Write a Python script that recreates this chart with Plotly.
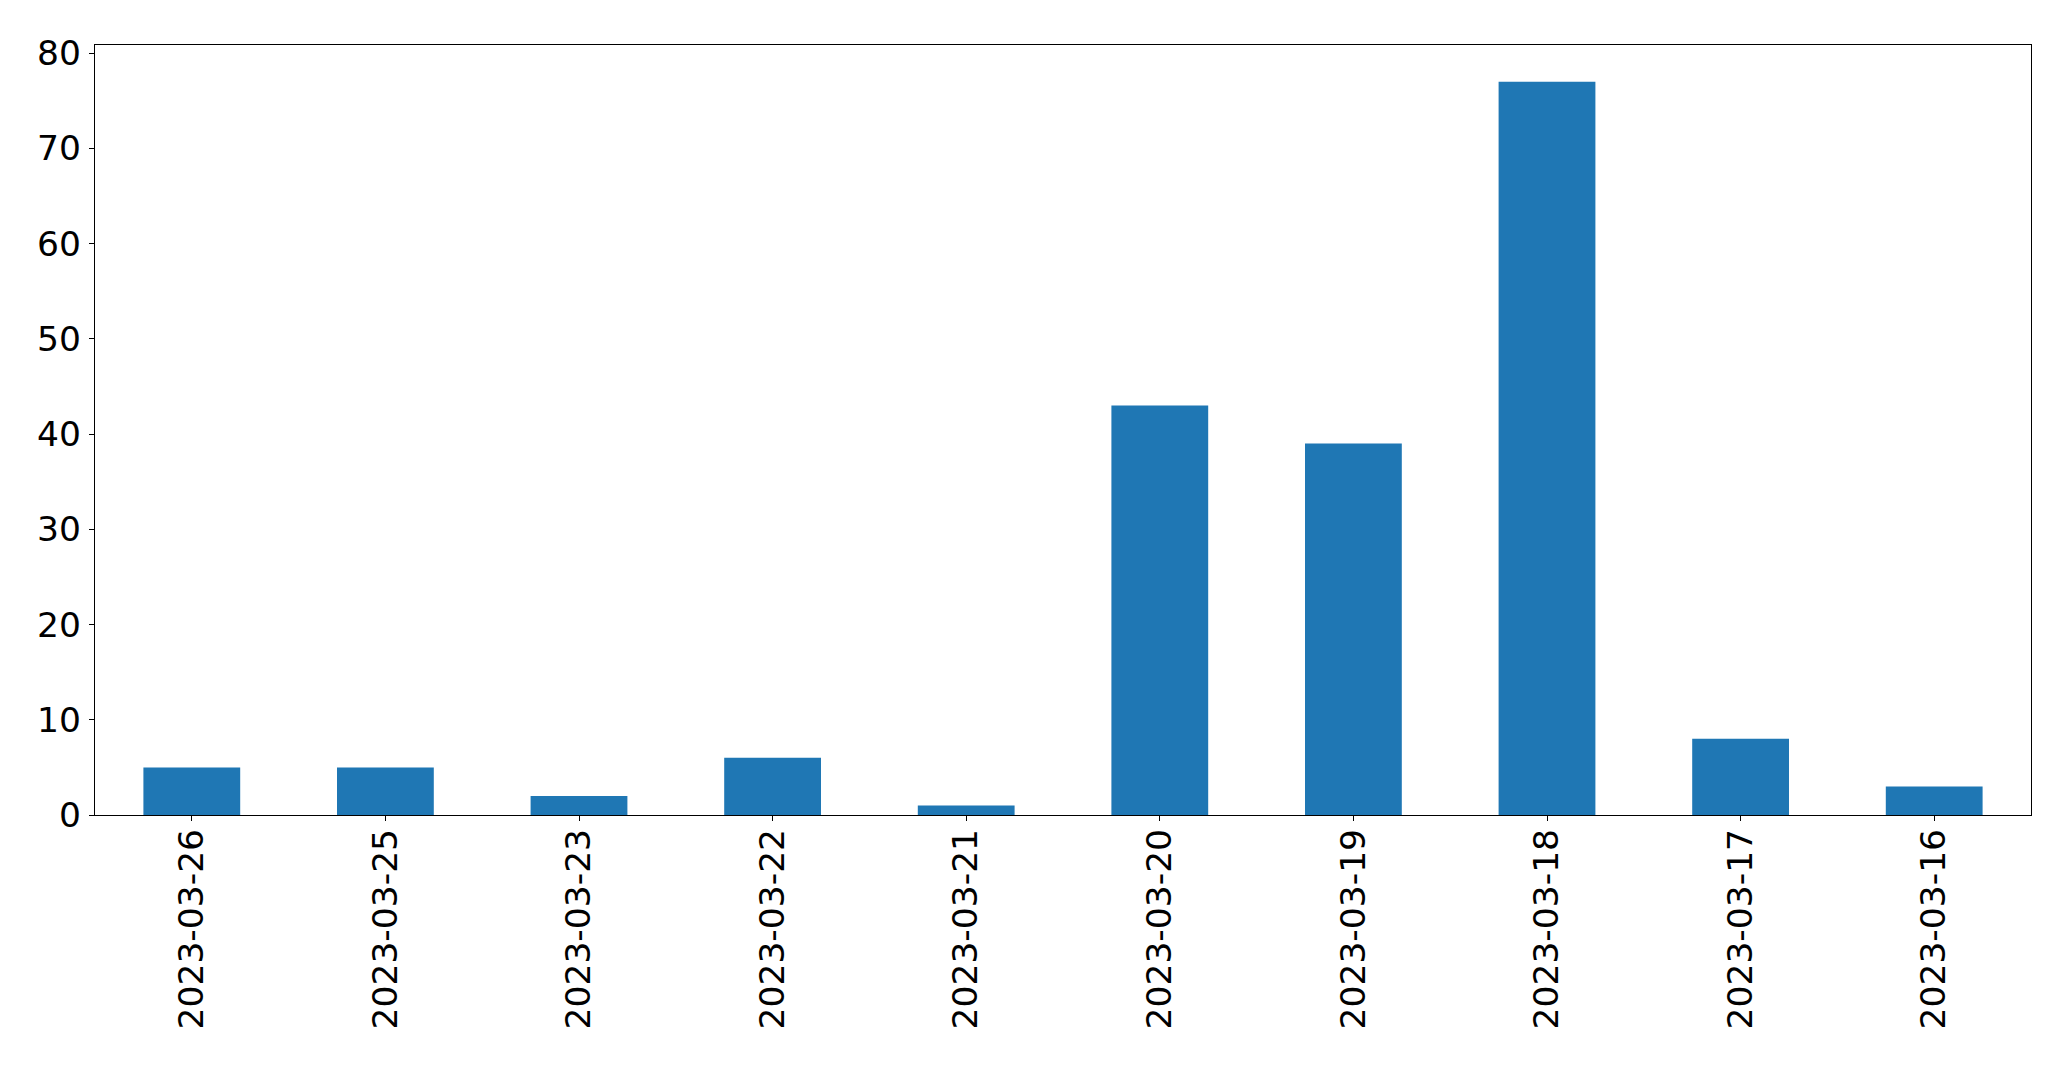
import plotly.graph_objects as go

dates = ["2023-03-26", "2023-03-25", "2023-03-23", "2023-03-22", "2023-03-21",
         "2023-03-20", "2023-03-19", "2023-03-18", "2023-03-17", "2023-03-16"]
counts = [5, 5, 2, 6, 1, 43, 39, 77, 8, 3]
y_ticks = [0, 10, 20, 30, 40, 50, 60, 70, 80]

fig = go.Figure(go.Bar(x=list(range(len(dates))), y=counts, width=0.5,
                       marker=dict(color="#1f77b4", line=dict(width=0))))

font = dict(family="DejaVu Sans", size=34.5, color="black")
fig.update_layout(
    width=2055, height=1051, autosize=False,
    margin=dict(l=87, r=32, t=37, b=244),
    plot_bgcolor="white", paper_bgcolor="white",
    showlegend=False, font=font,
)
fig.update_xaxes(
    range=[-0.5, len(dates) - 0.5], tickmode="array",
    tickvals=list(range(len(dates))), ticktext=dates, tickangle=-90,
    showgrid=False, zeroline=False, showline=True, linecolor="black",
    linewidth=1.3, mirror=True, ticks="outside", ticklen=5, tickwidth=1.3,
    tickcolor="black", tickfont=font, ticklabelstandoff=-6,
)
fig.update_yaxes(
    range=[0, max(counts) * 1.05], tickmode="array", tickvals=y_ticks,
    showgrid=False, zeroline=False, showline=True, linecolor="black",
    linewidth=1.3, mirror=True, ticks="outside", ticklen=5, tickwidth=1.3,
    tickcolor="black", tickfont=font, ticklabelstandoff=1,
)
fig.write_html("out.html")
